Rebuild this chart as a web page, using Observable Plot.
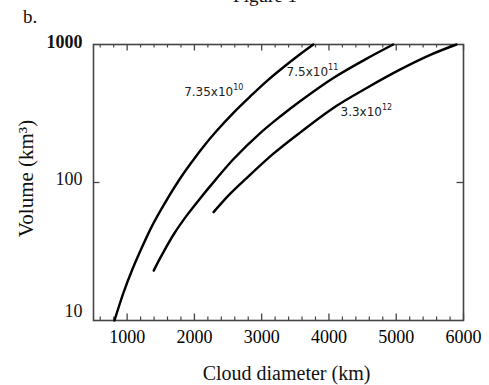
<!DOCTYPE html>
<html>
<head>
<meta charset="utf-8">
<script src="https://cdn.jsdelivr.net/npm/d3@7"></script>
<script src="https://cdn.jsdelivr.net/npm/@observablehq/plot@0.6"></script>
<style>
  html, body { margin: 0; padding: 0; background: #fff; }
  #wrap { position: relative; width: 489px; height: 385px; overflow: hidden; font-family: "Liberation Serif", serif; color: #111; }
  #wrap svg { position: absolute; left: 0; top: 0; }
  .fig { position: absolute; top: -15px; left: 0; width: 530px; text-align: center; font-size: 19px; }
  .panel { position: absolute; left: 23px; top: 6px; font-size: 19px; }
</style>
</head>
<body>
<div id="wrap">
  <div class="fig">Figure 1</div>
  <div class="panel">b.</div>
</div>
<script>
// Curves: [cloud diameter km, volume km^3]
const curve1 = [[812,10],[950,16.1],[1074,23.2],[1197,32],[1371,48.5],[1543,68.6],[1766,103],[1939,136],[2130,181],[2335,238],[2580,320],[2829,420],[3080,545],[3323,684],[3560,843],[3768,1000]];
const curve2 = [[1395,23],[1519,30],[1691,42],[1890,58],[2088,77],[2310,104],[2582,148],[2978,228],[3280,302],[3571,388],[4065,572],[4561,790],[4955,1000]];
const curve3 = [[2285,61],[2533,83],[2780,108],[3170,161],[3571,230],[4065,347],[4561,484],[5055,657],[5549,858],[5896,1000]];

const labelBase = ["7.35x10", "7.5x10", "3.3x10"];
const labelExp = ["10", "11", "12"];
const labelX = [2577, 3987, 4788];
const labelY = [449, 627, 321];

const xMajor = [1000, 2000, 3000, 4000, 5000, 6000];
const xMinor = [600, 800, 1200, 1400, 1600, 1800, 2200, 2400, 2600, 2800, 3200, 3400, 3600, 3800, 4200, 4400, 4600, 4800, 5200, 5400, 5600, 5800];
const yTicks = [10, 100, 1000];
const yInner = [100];

const xTitle = "Cloud diameter (km)";
const yTitle = "Volume (km³)";

const W = 489, H = 385, mT = 44, mR = 26, mB = 65, mL = 93;
const fW = W - mL - mR, fH = H - mT - mB;

const series = [curve1, curve2, curve3].flatMap((c, i) => c.map(([x, y]) => ({x, y, s: i})));
const labels = labelBase.map((b, i) => ({b, e: labelExp[i], x: labelX[i], y: labelY[i]}));

const axisColor = "#444";
const chart = Plot.plot({
  width: W, height: H,
  marginTop: mT, marginRight: mR, marginBottom: mB, marginLeft: mL,
  style: {fontFamily: "Liberation Serif, serif", background: "transparent", color: "#111"},
  x: {domain: [500, 6000]},
  y: {type: "log", domain: [10, 1000]},
  marks: [
    Plot.tickX(xMinor, {x: d => d, insetTop: fH - 3.5, stroke: axisColor, strokeWidth: 1.2}),
    Plot.tickX(xMinor, {x: d => d, insetBottom: fH - 3.5, stroke: axisColor, strokeWidth: 1.2}),
    Plot.tickX(xMajor, {x: d => d, insetTop: fH - 6.5, stroke: axisColor, strokeWidth: 1.3}),
    Plot.tickX(xMajor, {x: d => d, insetBottom: fH - 6.5, stroke: axisColor, strokeWidth: 1.3}),
    Plot.tickY(yInner, {y: d => d, insetRight: fW - 6.5, stroke: axisColor, strokeWidth: 1.3}),
    Plot.tickY(yInner, {y: d => d, insetLeft: fW - 6.5, stroke: axisColor, strokeWidth: 1.3}),
    Plot.frame({stroke: axisColor, strokeWidth: 1.6}),
    Plot.line(series, {x: "x", y: "y", z: "s", stroke: "#000", strokeWidth: 2.4, curve: "catmull-rom"}),
    Plot.axisX({ticks: xMajor, tickSize: 0, tickPadding: 10, fontSize: 18, fill: "#000", tickFormat: d => String(d), label: null}),
    Plot.axisY({ticks: [1000], tickSize: 0, tickPadding: 11, fontSize: 18, fontWeight: "bold", dy: -2.5, tickFormat: d => String(d), label: null}),
    Plot.axisY({ticks: [100], tickSize: 0, tickPadding: 11, fontSize: 18, dy: -3, tickFormat: d => String(d), label: null}),
    Plot.axisY({ticks: [10], tickSize: 0, tickPadding: 11, fontSize: 18, dy: -9, tickFormat: d => String(d), label: null}),
    Plot.text([xTitle], {frameAnchor: "bottom", text: d => d, textAnchor: "middle", lineAnchor: "middle", dx: 8, dy: 53, fontSize: 20, fill: "#111"}),
    Plot.text([yTitle], {frameAnchor: "left", text: d => d, textAnchor: "middle", lineAnchor: "middle", rotate: -90, dx: -67, dy: -4, fontSize: 21, fill: "#111"}),
    Plot.text(labels, {x: "x", y: "y", text: "b", textAnchor: "end", fontSize: 12, fontFamily: "DejaVu Sans", fill: "#222"}),
    Plot.text(labels, {x: "x", y: "y", text: "e", textAnchor: "start", dy: -5, fontSize: 8, fontFamily: "DejaVu Sans", fill: "#222"})
  ]
});
document.getElementById("wrap").appendChild(chart);
</script>
</body>
</html>
